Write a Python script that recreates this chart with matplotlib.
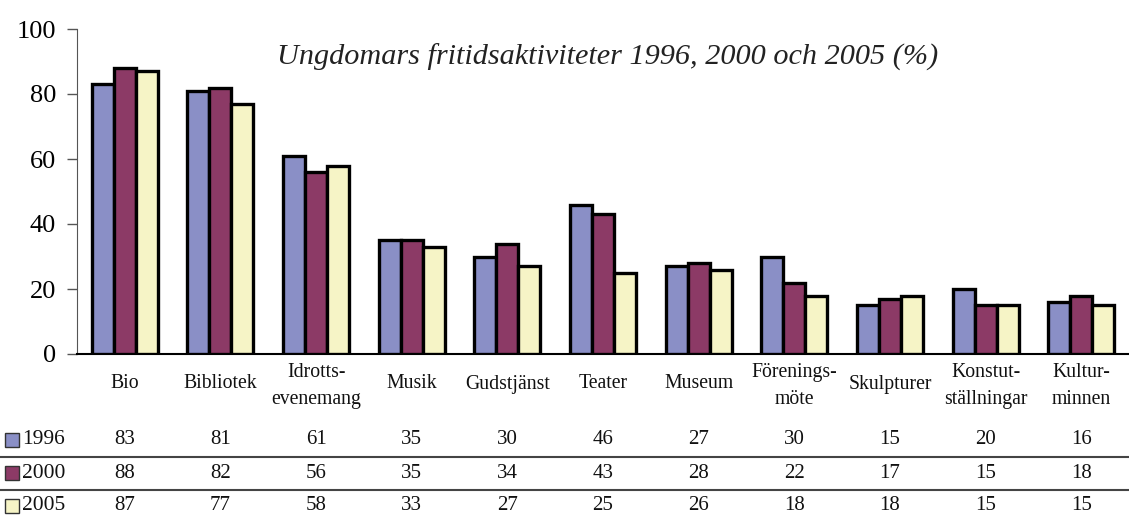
import matplotlib
matplotlib.use("Agg")
import matplotlib.pyplot as plt
import matplotlib.transforms as mtransforms
from matplotlib.patches import Rectangle
from matplotlib.lines import Line2D
import numpy as np

categories = ["Bio", "Bibliotek", "Idrotts-\nevenemang", "Musik", "Gudstjänst", "Teater",
              "Museum", "Förenings-\nmöte", "Skulpturer", "Konstut-\nställningar", "Kultur-\nminnen"]
years = ["1996", "2000", "2005"]
v1996 = [83, 81, 61, 35, 30, 46, 27, 30, 15, 20, 16]
v2000 = [88, 82, 56, 35, 34, 43, 28, 22, 17, 15, 18]
v2005 = [87, 77, 58, 33, 27, 25, 26, 18, 18, 15, 15]
series = [v1996, v2000, v2005]
colors = ["#8a8fc6", "#8c3a66", "#f6f4c6"]
title = "Ungdomars fritidsaktiviteter 1996, 2000 och 2005 (%)"

plt.rcParams['font.family'] = ['Liberation Serif', 'DejaVu Serif']

W, H = 1129, 520
fig = plt.figure(figsize=(W/100, H/100), dpi=100)
ax = fig.add_axes([77/W, 1-354/H, (1129-77)/W, (354-29)/H])

n = len(categories)
x = np.arange(n)
bw = 0.23
for i, (vals, c) in enumerate(zip(series, colors)):
    ax.bar(x + (i-1)*bw, vals, width=bw, color=c, edgecolor="black", linewidth=2.4, zorder=3)

ax.set_xlim(-0.5, n-0.5)
ax.set_ylim(0, 100)
ax.set_yticks([0, 20, 40, 60, 80, 100])
ax.tick_params(axis='y', labelsize=19, length=7, width=1, color="#555555", pad=8)
ax.set_xticks([])
for s in ["top", "right"]:
    ax.spines[s].set_visible(False)
ax.spines["left"].set_color("#555555")
ax.spines["bottom"].set_color("black")
ax.spines["bottom"].set_linewidth(1.5)

ax.text(608/W, 1-57/H, title, transform=fig.transFigure, ha="center", va="center",
        fontsize=21.8, style="italic", color="#222222")

trans = mtransforms.blended_transform_factory(ax.transData, fig.transFigure)
for xi, cat in zip(x, categories):
    if "\n" in cat:
        ax.text(xi, 1-386/H, cat, transform=trans, ha="center", va="center",
                fontsize=14.2, linespacing=1.55, color="#111111")
    else:
        ax.text(xi, 1-384/H, cat, transform=trans, ha="center", va="center",
                fontsize=14.2, color="#111111")

row_y = [440, 473, 506]
for yr, vals, c, ry in zip(years, series, colors, row_y):
    yf = 1-ry/H
    fig.patches.append(Rectangle((5/W, yf-7/H), 14/W, 14/H, transform=fig.transFigure,
                                 facecolor=c, edgecolor="#333333", linewidth=1))
    fig.text(22/W, yf, yr, ha="left", va="center", fontsize=15.5, color="#111111")
    for xi, v in zip(x, vals):
        ax.text(xi, yf, str(v), transform=trans, ha="center", va="center",
                fontsize=15, color="#111111")

for ly in [457, 490]:
    fig.lines.append(Line2D([0, 1], [1-ly/H, 1-ly/H], transform=fig.transFigure,
                            color="#444444", linewidth=1.5))

fig.savefig("out.png", dpi=100, facecolor="white")
